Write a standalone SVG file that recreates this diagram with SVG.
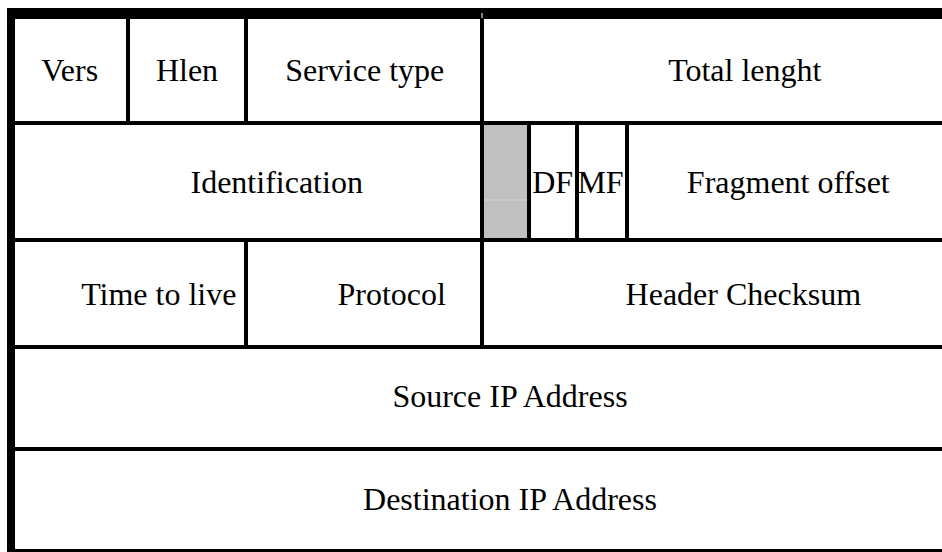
<svg xmlns="http://www.w3.org/2000/svg" width="942" height="552" viewBox="0 0 942 552">
  <style>
    .lbl { font-size: 32px; fill: #000; text-anchor: middle; }
    .rule { fill: #000; }
  </style>
  <rect x="0" y="0" width="942" height="552" fill="#fff"/>

  <!-- reserved flag bit (shaded) -->
  <g id="reserved-bit">
    <rect x="484" y="125" width="43" height="113" fill="#c0c0c0"/>
    <rect x="484" y="199.5" width="43" height="1" fill="#d6d6d6"/>
  </g>

  <!-- header grid lines -->
  <g id="grid" class="rule">
    <!-- outer frame -->
    <rect x="7" y="8" width="935" height="11"/>
    <rect x="7" y="8" width="8" height="544"/>
    <rect x="481.5" y="13" width="1" height="5" fill="#fff"/>
    <!-- row separators -->
    <rect x="15" y="121" width="927" height="4"/>
    <rect x="15" y="238" width="927" height="4"/>
    <rect x="15" y="345" width="927" height="4"/>
    <rect x="15" y="447" width="927" height="4"/>
    <rect x="15" y="549" width="927" height="3"/>
    <!-- row 1 dividers -->
    <rect x="126" y="19" width="4" height="102"/>
    <rect x="244" y="19" width="4" height="102"/>
    <!-- 16-bit boundary, rows 1-3 -->
    <rect x="480" y="19" width="4" height="326"/>
    <!-- row 2 flag dividers -->
    <rect x="527" y="125" width="4" height="113"/>
    <rect x="575" y="125" width="4" height="113"/>
    <rect x="625" y="125" width="4" height="113"/>
    <!-- row 3 divider -->
    <rect x="244" y="242" width="4" height="103"/>
  </g>

  <g font-family="'Liberation Serif', 'DejaVu Serif', serif">
    <g id="vers"><text class="lbl" x="69.7" y="81">Vers</text></g>
    <g id="hlen"><text class="lbl" x="187" y="81">Hlen</text></g>
    <g id="service-type"><text class="lbl" x="364.7" y="81">Service type</text></g>
    <g id="total-length"><text class="lbl" x="744.8" y="81">Total lenght</text></g>

    <g id="identification"><text class="lbl" x="276.7" y="192.5">Identification</text></g>
    <g id="df"><text class="lbl" x="552.7" y="192.5">DF</text></g>
    <g id="mf"><text class="lbl" x="600.5" y="192.5">MF</text></g>
    <g id="fragment-offset"><text class="lbl" x="788.3" y="192.5">Fragment offset</text></g>

    <g id="ttl"><text class="lbl" x="158.8" y="305">Time to live</text></g>
    <g id="protocol"><text class="lbl" x="391.7" y="305">Protocol</text></g>
    <g id="header-checksum"><text class="lbl" x="743.3" y="305">Header Checksum</text></g>

    <g id="source-ip"><text class="lbl" x="510" y="407">Source IP Address</text></g>
    <g id="destination-ip"><text class="lbl" x="510" y="510">Destination IP Address</text></g>
  </g>
</svg>
